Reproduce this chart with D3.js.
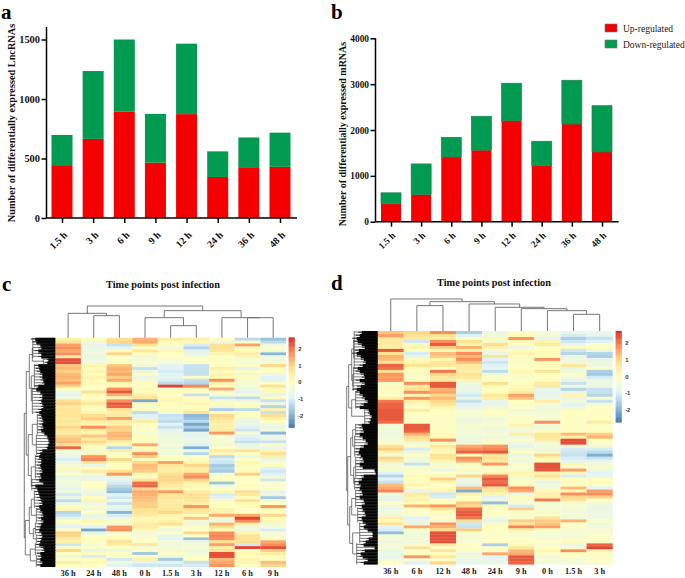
<!DOCTYPE html>
<html>
<head>
<meta charset="utf-8">
<script src="https://cdnjs.cloudflare.com/ajax/libs/d3/7.8.5/d3.min.js"></script>
<style>
  body { margin: 0; background: #fff; }
  text { font-family: "Liberation Serif", serif; }
</style>
</head>
<body>
<div id="chart"></div>
<script>
// bar charts
var hours = ['1.5 h', '3 h', '6 h', '9 h', '12 h', '24 h', '36 h', '48 h'];
var lncUp = [437, 665, 893, 465, 873, 345, 427, 430];
var lncDown = [261, 570, 607, 410, 592, 215, 250, 287];
var mrnaUp = [390, 590, 1410, 1560, 2200, 1220, 2130, 1520];
var mrnaDown = [240, 670, 430, 740, 820, 535, 955, 1010];
var lncTicks = [0, 500, 1000, 1500];
var mrnaTicks = [0, 1000, 2000, 3000, 4000];
var legendLabels = ['Up-regulated', 'Down-regulated'];

// heatmap c, one list per column, top row first
var c36h = [.6,.9,1.8,2,1.7,2,.9,2.6,2.6,1.4,1.5,1.3,1.5,1.6,1.4,1.8,1.2,.2,-.3,-.7,-.2,1.1,1.3,.8,1,.9,
  1,.8,.9,.7,1.2,.9,.7,1.2,1.4,1.5,1.1,2.4,-.1,-.3,-.5,-.8,-.3,-.1,.3,-.2,.2,-.5,-.2,-.2,-.3,-.7,
  -.2,-.9,-.4,-1.1,-.4,.3,.4,-1.2,-1,-.4,.2,-.2,-.7,.3,1.3,1.2,.8,.6,-.9,.1,1.2,.1,-.2,.1,.7,.2];
var c24h = [.3,-.2,-.5,-.4,-.3,-.2,-.4,-.3,-.3,.5,.3,.5,.2,.6,.3,.4,.2,.1,1.1,.3,.2,.5,.9,.3,.2,.5,
  1.1,1.3,.8,.5,2,.7,.5,1.4,.8,1.2,.5,.3,-.2,.4,1.9,2.1,.9,-.4,.3,.8,-.2,-.5,-.3,.2,.2,0,
  -.3,-.4,.3,.5,-.3,0,-.2,.2,-.4,-.4,.4,.1,-.6,-1.9,-.5,.1,.2,.3,-.1,.1,-.5,.3,-.8,.2,.4,.2];
var c48h = [1,1.2,-1,-.6,.3,1.2,.1,.2,.1,1.4,1.6,1.5,1.7,1.3,1.7,.4,.3,2,2.5,1.6,.4,2,2.5,2.4,1,.6,
  .8,1.8,.7,.6,1.3,1.2,1.5,1.6,1.4,.7,.3,-1.2,.7,.1,.2,1.2,.3,.2,.3,1,1.9,-.4,-.5,-.8,-1.1,-1.4,
  -1.6,-.6,-.9,-.3,-1,-.4,-.6,-1.7,-.8,-.3,.1,-.2,1.9,2,-.1,.2,.4,1,.7,.2,-.4,.2,.1,-.9,-.2,-.7];
var c0h = [1.6,1.7,1,.2,.9,.3,-.2,-.2,.1,-.3,-1,-.3,.2,-.4,-.2,.3,.1,.4,.3,.7,1,-1.9,.4,-.2,.3,-1.1,
  -.7,-.6,.7,.1,.1,.1,-.2,.3,.2,.3,1.7,.3,.4,2,1.3,.2,1.2,1.5,1.4,1.3,.4,.1,1,2.3,2.4,1.2,
  1.7,1.6,1.5,1.4,1.3,1.3,1,.9,.8,.3,.5,.7,.8,.4,-.2,-.1,.1,.1,.8,-.1,.1,-1.4,0,.6,-.7,-.9];
var c1h5 = [.8,.3,.1,-.2,.4,.2,.2,-.1,-.1,-.6,-.7,-.8,-.7,-.5,-.8,-1.1,2.7,.1,.3,.2,.4,.5,.3,.1,.3,-.2,
  -1,-.9,-1.1,-.6,-1,-.5,-.4,-.3,-.2,-.3,-.1,-.3,-.1,-.2,.1,.2,1.8,.9,.7,.7,1,1.2,1.2,1,.8,.6,
  1.9,.9,.9,.7,.8,.8,.9,1.2,.5,.3,.6,1.1,.1,-.3,.1,-.5,-.6,-.2,-.3,-.1,-.2,.1,-.3,-1.4,-.6,-.9];
var c3h = [.7,.4,-.8,-1.2,-.6,-.4,-.1,.1,.1,-1,-1,-1,-1,.1,-1,-1.2,2.1,.4,.1,-1,.2,.3,.5,.2,.4,1,
  -1.7,-1.5,-1.1,-1.9,-1.3,-1.9,-.5,-.6,-.4,-.4,-.6,-1.8,-.3,-1.2,.1,.3,.5,1.2,.7,.7,1.7,2,1.2,.6,.4,.3,
  .8,1.1,1,.9,.7,1.9,1.1,.8,.2,1.4,-.2,-.3,.1,.2,1.2,.1,-1.5,-.3,-.2,-.1,-.3,-.2,.1,.2,-1,-.8];
var c12h = [.2,-.3,1,1.1,.9,.5,.2,.1,.2,.3,.6,.3,.5,.4,2,.6,.2,1.7,0,-.1,-1,-.2,.3,-.3,-1.3,.3,
  1.2,1,.7,.6,.6,.7,1.9,-.1,-.1,-.1,-.2,.2,.8,.5,-1.1,-.8,-.9,-1.4,-1.2,-1.4,-.1,.2,.2,-1.5,-.2,.1,
  .4,-.8,-.7,.3,.2,.2,.5,.6,1.7,-.1,-.3,1.6,1.1,.3,2,2.1,2,1,1.8,.7,1,2.6,2.6,1.5,1.7,1.9];
var c6h = [-1.1,.1,1.8,.3,.3,.7,.5,-.1,-.1,.1,-.6,.2,-.2,.3,-.1,-.1,-.1,-.3,-.7,.1,-1.1,-.4,.2,.3,-1.1,.2,
  .2,-.2,-.4,-.4,-.7,-.9,-.1,-.7,-.8,-1,-.5,-.2,1,.2,-.5,.2,.4,.3,.1,.3,1.3,.2,.1,.2,.3,0,
  1.1,.8,.3,1,.4,.3,.1,.2,1.7,2.7,2,.5,-.2,-.3,.5,1,1,1.1,-.9,2.7,.1,.4,.3,.5,.4,.1];
var c9h = [-1.5,-1.1,-.3,.1,-.2,-1.7,-.3,-.2,-.1,1.2,.3,.1,-.3,-.7,-.6,.1,1,.3,.4,-.5,.3,-1,-.3,-1.2,.6,-1,
  1.1,.6,.2,-.2,-.5,-.2,-1.7,-.3,-.5,-1,.1,-.5,.5,1.1,.6,-.4,0,.2,-.7,-.9,-.7,-.2,-.9,.1,-.1,.2,
  -.5,-.3,-1.4,-.2,.2,1.9,.4,.2,1.2,.3,.4,-.2,-.1,-.8,-.1,0,.1,1.7,2,2.6,1.3,.7,.3,.2,1.5,1.2];
var heatC = [c36h, c24h, c48h, c0h, c1h5, c3h, c12h, c6h, c9h];
var labelsC = ['36 h', '24 h', '48 h', '0 h', '1.5 h', '3 h', '12 h', '6 h', '9 h'];
// how far the black row tree reaches left of the heatmap, per row
var reachC = [20,19,15,14,17,14,14,7,8,17,16,15,13,13,12,11,17,19,15,13,13,14,13,12,14,16,
  14,13,12,13,12,14,11,8,7,6,7,8,13,15,16,14,14,15,14,13,15,14,16,12,20,18,
  17,16,15,14,13,16,15,13,12,14,12,14,15,16,14,13,14,15,16,12,11,15,14,15,13,15];
// [height, child, child], leaves are [firstRow, lastRow]
var rowTreeC = [31,
  [29, [26, [23, [0, 6], [7, 8]], [24, [9, 16], [17, 25]]],
    [27, [23, [26, 32], [33, 39]], [24, [40, 47], [48, 51]]]],
  [30, [26, [24, [52, 57], [58, 62]], [22, [63, 66], [67, 69]]], [25, [70, 73], [74, 77]]]];
var colTreeC = [95,
  [73, '36 h', [66, '24 h', '48 h']],
  [81, [60, '0 h', [36, '1.5 h', '3 h']], [60, '12 h', [60, '6 h', '9 h']]]];

// heatmap d
var d36h = [1.4,1.8,.9,.8,.7,.8,2.5,1,1.6,1.5,.9,2.4,2.3,1.1,1.9,1.8,1.9,.1,-.1,.3,0,.2,.6,2.2,2.4,2.4,
  2.5,2.5,2.5,2.5,2.3,-.2,-.2,-.3,-.3,-.2,-.1,-.1,1,1.3,.6,-.2,1.2,.8,-.3,0,-.1,-.7,-1.2,-.6,-1,1.5,
  1.7,2.1,-.2,-.4,-.5,.2,-.3,-.4,-.2,-.3,.6,.4,1,-.7,-.8,-1.6,-.1,-.1,-.3,-.1,-.1,-.5,-.3,-.6,-.2,.2];
var d6h = [1.2,1,.8,-.9,.3,.4,.2,-.8,-.5,.3,.5,1,.3,.2,0,.1,.1,2,.7,1,2,.4,1.9,.6,.4,.1,
  .8,.2,.1,.1,.1,2.5,2.5,2.4,1.6,1.1,.8,-.2,.1,-.8,-.3,.2,-.3,-.2,-1,-.1,0,.1,.4,.2,.3,.5,
  .2,-.6,.8,.5,.6,.3,1.6,.2,.1,0,-.7,-.4,-.3,1.7,.1,-.2,-.2,-.2,-.2,-.1,1,.1,.3,1.9,-.1,-.7];
var d12h = [2,1,.7,2,2.5,1.3,.3,1.5,1.3,.5,.9,.9,.2,2.2,1.2,.8,.9,2.5,2.5,1.6,1.7,1.2,1.5,1.2,.9,.5,
  .2,.2,.1,.1,.1,.1,.1,.2,.3,.4,2,.1,.9,.5,.3,1,.9,.5,-.1,0,-.4,.1,.4,1.3,.5,.1,
  .3,.5,-.9,-.8,.2,.3,1.9,1,.3,-.1,.1,-.2,1.9,1.6,1.1,2.6,2.6,2.6,2.6,.8,.1,1,.2,.9,.1,1.2];
var d48h = [-1.3,-.7,.2,1,.5,1.6,.6,2,1.5,2,1.4,.8,.8,.7,1,.8,.5,-.3,-.4,-.4,-.5,-.9,-.4,-1,-.6,-.5,
  -.1,-.1,-.1,-.3,-.3,0,-.2,-.1,-.2,-.3,-.3,-.2,1.7,2,2.4,.3,2,1.7,.2,.1,0,-.1,1.2,-.3,-.4,-.6,
  1.5,-1.8,.6,.2,.3,1.4,1.2,2.3,2.5,2.5,2.2,1,-.9,-1,1.3,.1,-.1,-.1,-.1,.2,.1,.1,-.4,-.3,-.4,-.5];
var d24h = [-.3,-.2,.3,0,1.1,.6,-.2,-.4,1,-.7,-.9,-.7,-.5,-1.1,-.3,.1,.1,1.1,.3,.2,.3,.9,.6,-.4,-.5,-.3,
  .3,.1,0,-.2,-.1,0,-.3,-.2,-.1,-.2,-.1,.1,1.9,2.1,2.5,1,1,.7,1.9,.1,.1,.5,2.1,2.5,2.3,2.5,
  1,.9,.5,-.6,-.3,-1.6,.4,.2,.1,.2,-.2,-.7,.3,.2,.2,.1,.1,.1,.1,-1.3,.1,.1,1.7,-.7,-.5,-.4];
var d9h = [.1,.3,1.9,.4,.2,-.3,.3,.5,.3,0,.3,.1,.2,.4,.3,0,.1,.2,.3,.5,.7,1.8,1.4,.2,0,.2,
  -.2,-.1,.1,.1,.1,.5,-.2,-.2,.6,-.3,0,-.2,-.6,-.2,.2,-.4,-.1,-.3,0,.1,-.1,.5,.4,-.2,.2,.3,
  2,1.7,-.4,.3,-.1,.1,-.8,1.3,.1,0,0,1.3,1,2.1,.6,0,0,.2,.1,.3,.9,1.5,1.7,2.5,2.5,2.4];
var d0h = [0,-.2,-.6,.5,.8,.2,.3,.3,.2,1.9,.3,.3,.2,1,.2,.2,.3,.7,.8,-.5,-.6,-.5,-.4,.7,-.2,-.2,
  -.2,-.1,-.1,-.1,2,-.2,-.2,.2,.9,.9,.7,-.2,-.1,-.3,-.1,1.2,.5,.3,2.6,2.6,2.5,.5,1.1,.4,-.5,-.2,
  -.2,.4,.6,.6,2.2,-.1,-.1,0,0,0,1,1.3,1.4,1.8,.1,-.1,-.1,-.1,.1,-.1,.2,.4,.1,-.2,-.1,-.2];
var d1h5 = [-.4,-.8,-1.3,-.9,-.5,.3,-.9,-1.2,-.5,-.3,-.2,.9,-.4,-.2,.1,-.3,-.4,-1,-.2,-1.2,-.4,.5,-.4,-.2,-.6,-.3,
  .3,.2,.1,.1,.1,.1,.1,.2,1.5,.6,2.6,2.6,-.2,-.8,-.9,-1,-.8,-.7,.5,0,1.8,.4,-.8,.2,.3,.2,
  1.5,.4,2,1.2,1,0,-.1,-.1,-.2,-.2,-.2,1.6,.1,.1,-.1,-.1,-.1,-.1,.3,-.4,-.1,2,.2,.2,-.2,-.1];
var d3h = [-.3,-.6,-1,-.7,.1,.1,-.3,-1.2,-1.3,-.5,-.3,-.3,.1,-1.3,-1.4,-.8,-.4,-.3,-.4,-1,-1,-1.2,.1,-1,-.2,.1,
  .2,.1,.2,.1,.8,.1,.1,.2,1.3,1.6,.1,.1,-.2,-.8,-1.1,-1.8,-1,-.5,-.2,0,-.2,-.7,-.5,.2,.3,.1,
  -.7,1.8,2,1.3,.2,-.2,-.3,-.4,-.3,-.3,-.3,.1,-.3,-.2,-.1,-.1,.1,.1,.1,2.4,2.7,.6,.1,.1,.1,0];
var heatD = [d36h, d6h, d12h, d48h, d24h, d9h, d0h, d1h5, d3h];
var labelsD = ['36 h', '6 h', '12 h', '48 h', '24 h', '9 h', '0 h', '1.5 h', '3 h'];
var reachD = [16,18,21,20,16,13,19,21,17,14,12,15,20,18,14,13,18,13,17,21,18,15,13,10,14,18,
  9,8,6,7,8,16,15,14,18,15,12,10,14,18,19,17,15,14,18,15,3,2,14,16,19,17,
  18,16,15,18,14,13,16,15,13,12,16,15,12,14,10,5,5,9,12,14,3,13,17,15,10,14];
var rowTreeD = [31,
  [29, [26, [24, [0, 5], [6, 11]], [25, [12, 16], [17, 19]]], [26, [20, 25], [26, 30]]],
  [30, [27, [25, [31, 34], [35, 41]], [24, [42, 48], [49, 52]]],
    [28, [26, [53, 58], [59, 63]], [25, [64, 70], [71, 77]]]]];
var colTreeD = [96, '36 h',
  [88, [76, '6 h', '12 h'],
    [81, '48 h', [71, '24 h', [67, '9 h', [61, '0 h', [50, '1.5 h', '3 h']]]]]]];

var colorStops = ['#4575B4', '#91BFDB', '#E0F3F8', '#FFFFBF', '#FEE090', '#FC8D59', '#D73027'];
var colorTicks = [2, 1, 0, -1, -2];

var width = 685, height = 578;
var svg = d3.select('#chart').append('svg')
  .attr('width', width).attr('height', height)
  .style('display', 'block');

var fillUp = '#f40000', fillDown = '#009a50';

function drawBars(cfg) {
  var x = d3.scalePoint().domain(hours).range([cfg.x0, cfg.x1]);
  var y = d3.scaleLinear().domain([0, cfg.yMax]).range([cfg.y0, cfg.y1]);
  var rows = hours.map(function(h, i) {
    return { hour: h, up: cfg.up[i], down: cfg.down[i] };
  });
  var series = d3.stack().keys(['up', 'down'])(rows);
  var g = svg.append('g');

  g.selectAll('g.series').data(series).enter().append('g')
    .attr('fill', function(d) { return d.key === 'up' ? fillUp : fillDown; })
    .attr('stroke', function(d) { return d.key === 'down' && cfg.outline ? cfg.outline : 'none'; })
    .attr('stroke-width', 0.7)
    .selectAll('rect').data(function(d) { return d; }).enter().append('rect')
    .attr('x', function(d) { return x(d.data.hour) - cfg.barW / 2; })
    .attr('width', cfg.barW)
    .attr('y', function(d) { return y(d[1]); })
    .attr('height', function(d) { return y(d[0]) - y(d[1]); });

  var yAxis = d3.axisLeft(y).tickValues(cfg.ticks).tickSize(5).tickPadding(1.5).tickFormat(d3.format('d'));
  var gy = g.append('g').attr('transform', 'translate(' + cfg.axisX + ',0)').call(yAxis);
  // axis line runs above the top tick, so redraw the domain by hand
  gy.select('.domain').attr('d', 'M0,' + cfg.y0 + 'V' + cfg.axisTop);
  gy.selectAll('text').style('font-weight', 'bold').style('font-size', cfg.tickSize + 'px').attr('fill', '#111');

  var xAxis = d3.axisBottom(x).tickSize(5);
  var gx = g.append('g').attr('transform', 'translate(0,' + cfg.y0 + ')').call(xAxis);
  gx.select('.domain').attr('d', 'M' + cfg.axisX + ',0H' + cfg.axisEnd);
  gx.selectAll('text')
    .style('font-weight', 'bold').style('font-size', cfg.hourSize + 'px').attr('fill', '#111')
    .attr('text-anchor', 'end').attr('x', 0).attr('y', 0).attr('dy', '0.35em')
    .attr('transform', 'translate(' + cfg.hourShift + ') rotate(-45)');

  g.selectAll('.domain').attr('stroke', '#000').attr('stroke-width', 1.5);
  g.selectAll('.tick line').attr('stroke', '#000').attr('stroke-width', 1.5);

  g.append('text')
    .attr('transform', 'translate(' + cfg.titleX + ',' + cfg.titleY + ') rotate(-90)')
    .attr('text-anchor', 'middle')
    .style('font-weight', 'bold').style('font-size', cfg.titleSize + 'px').attr('fill', '#111')
    .text(cfg.title);
}

drawBars({
  up: lncUp, down: lncDown, ticks: lncTicks, yMax: 1500,
  x0: 62, x1: 280, y0: 218, y1: 39.5, barW: 21,
  axisX: 46.5, axisTop: 27, axisEnd: 297,
  tickSize: 10.4, hourSize: 10, hourShift: '3,15',
  title: 'Number of differentially expressed LncRNAs', titleX: 14.5, titleY: 123, titleSize: 10.3
});

drawBars({
  up: mrnaUp, down: mrnaDown, ticks: mrnaTicks, yMax: 4000, outline: '#2c7a55',
  x0: 391, x1: 602, y0: 221.7, y1: 38.3, barW: 20,
  axisX: 375.5, axisTop: 38.3, axisEnd: 618.7,
  tickSize: 9.4, hourSize: 9.4, hourShift: '2,12',
  title: 'Number of differentially expressed mRNAs', titleX: 346, titleY: 134, titleSize: 10
});

// legend
var legend = svg.append('g').selectAll('g').data(legendLabels).enter().append('g')
  .attr('transform', function(d, i) { return 'translate(605,' + (24 + i * 16) + ')'; });
legend.append('rect')
  .attr('width', 12).attr('height', 8)
  .attr('fill', function(d, i) { return i === 0 ? fillUp : fillDown; })
  .attr('stroke', '#777').attr('stroke-width', 0.6);
legend.append('text')
  .attr('x', 18).attr('y', 7.5)
  .style('font-size', '9.5px').attr('fill', '#222')
  .text(function(d) { return d; });

var color = d3.scaleLinear()
  .domain(d3.range(colorStops.length).map(function(i) { return -2.7 + i * 0.9; }))
  .range(colorStops);

function drawHeatmap(cfg) {
  var g = svg.append('g');
  var x = d3.scaleBand().domain(cfg.labels).range([cfg.left, cfg.right]);

  // cells, the picture sits a little on the cool side of the key
  g.selectAll('g.col').data(cfg.cols).enter().append('g')
    .attr('transform', function(d, i) { return 'translate(' + x(cfg.labels[i]) + ',0)'; })
    .each(function(col) {
      var rowY = d3.scaleBand().domain(d3.range(col.length)).range([cfg.top, cfg.bottom]);
      d3.select(this).selectAll('rect').data(col).enter().append('rect')
        .attr('y', function(d, i) { return rowY(i); })
        .attr('width', x.bandwidth())
        .attr('height', rowY.bandwidth() + 0.3)
        .attr('fill', function(d) { return color(d - 0.2); });
    });

  g.selectAll('text.collabel').data(cfg.labels).enter().append('text')
    .attr('x', function(d) { return x(d) + x.bandwidth() / 2; })
    .attr('y', cfg.labelY)
    .attr('text-anchor', 'middle')
    .style('font-size', '8.4px').style('font-weight', 'bold').attr('fill', '#222')
    .text(function(d) { return d; });

  g.append('text')
    .attr('x', cfg.titleX).attr('y', cfg.titleY)
    .attr('text-anchor', 'middle')
    .style('font-size', '10.3px').style('font-weight', 'bold').attr('fill', '#111')
    .text('Time points post infection');

  // column tree on top
  var colH = d3.scaleLinear().domain([0, 95]).range([cfg.top, cfg.top - 31.7]);
  var colRoot = d3.hierarchy(cfg.colTree, function(d) {
    return Array.isArray(d) ? d.slice(1) : null;
  });
  colRoot.eachAfter(function(n) {
    if (n.children) {
      n.px = d3.mean(n.children, function(c) { return c.px; });
      n.h = n.data[0];
    } else {
      n.px = x(n.data) + x.bandwidth() / 2;
      n.h = 0;
    }
  });
  g.append('g').selectAll('path').data(colRoot.descendants().filter(function(n) { return n.children; }))
    .enter().append('path')
    .attr('fill', 'none').attr('stroke', '#666').attr('stroke-width', 0.9)
    .attr('d', function(n) {
      var a = n.children[0], b = n.children[1];
      return 'M' + a.px + ',' + colH(a.h) + 'V' + colH(n.h) + 'H' + b.px + 'V' + colH(b.h);
    });

  // row tree on the left: a black stub per row with a thin comb in front of it
  var rowY = d3.scaleBand().domain(d3.range(cfg.reach.length)).range([cfg.top, cfg.bottom]);
  var rowX = d3.scaleLinear().domain([0, 33]).range([cfg.left, cfg.left - 33]);
  g.append('g').selectAll('rect').data(cfg.reach).enter().append('rect')
    .attr('x', function(d) { return rowX(d); })
    .attr('y', function(d, i) { return rowY(i); })
    .attr('width', function(d) { return rowX(0) - rowX(d); })
    .attr('height', rowY.bandwidth() + 0.3)
    .attr('fill', '#000');
  g.append('g').selectAll('rect').data(cfg.reach).enter().append('rect')
    .attr('x', function(d) { return rowX(d * 1.22); })
    .attr('y', function(d, i) { return rowY(i) + 0.8; })
    .attr('width', function(d) { return rowX(0) - rowX(d * 1.22); })
    .attr('height', 0.9)
    .attr('fill', '#111');

  var rowRoot = d3.hierarchy(cfg.rowTree, function(d) {
    return typeof d[1] === 'number' ? null : d.slice(1);
  });
  rowRoot.eachAfter(function(n) {
    if (n.children) {
      n.py = d3.mean(n.children, function(c) { return c.py; });
      n.h = n.data[0];
    } else {
      n.py = (rowY(n.data[0]) + rowY(n.data[1]) + rowY.bandwidth()) / 2;
      n.h = Math.min(d3.max(cfg.reach.slice(n.data[0], n.data[1] + 1)) + 4, n.parent.data[0] - 0.5);
    }
  });
  var treeG = g.append('g').attr('fill', 'none').attr('stroke', '#444').attr('stroke-width', 0.7);
  treeG.selectAll('path.node').data(rowRoot.descendants().filter(function(n) { return n.children; }))
    .enter().append('path')
    .attr('d', function(n) {
      var a = n.children[0], b = n.children[1];
      return 'M' + rowX(a.h) + ',' + a.py + 'H' + rowX(n.h) + 'V' + b.py + 'H' + rowX(b.h);
    });
  // small brackets joining neighbouring rows inside each leaf group
  treeG.selectAll('path.leaf').data(rowRoot.leaves())
    .enter().append('path')
    .attr('d', function(n) {
      var p = 'M' + rowX(n.h) + ',' + rowY(n.data[0]) + 'V' + (rowY(n.data[1]) + rowY.bandwidth());
      d3.range(n.data[0], n.data[1] + 1).forEach(function(r) {
        p += 'M' + rowX(n.h) + ',' + (rowY(r) + 1) + 'H' + rowX(cfg.reach[r]);
      });
      return p;
    });

  // colour key
  var keyY = d3.scaleLinear().domain([2, -2]).range([cfg.keyTick2, cfg.keyTickM2]);
  var keyVals = d3.range(2.7, -2.7, -0.05);
  var keyG = g.append('g');
  keyG.selectAll('rect').data(keyVals).enter().append('rect')
    .attr('x', cfg.keyX)
    .attr('width', 6)
    .attr('y', function(d) { return keyY(d); })
    .attr('height', Math.abs(keyY(0.05) - keyY(0)) + 0.5)
    .attr('fill', function(d) { return color(d); });
  keyG.selectAll('text').data(colorTicks).enter().append('text')
    .attr('x', cfg.keyX + 9.5)
    .attr('y', function(d) { return keyY(d) + 2; })
    .style('font-family', '"Liberation Sans", sans-serif')
    .style('font-size', '5.8px').style('font-weight', 'bold').attr('fill', '#333')
    .text(function(d) { return d; });
}

drawHeatmap({
  cols: heatC, labels: labelsC, reach: reachC, rowTree: rowTreeC, colTree: colTreeC,
  left: 55.3, right: 286, top: 337.7, bottom: 566.7,
  labelY: 575.5, titleX: 163, titleY: 287.5,
  keyX: 288.7, keyTick2: 349, keyTickM2: 415.7
});

drawHeatmap({
  cols: heatD, labels: labelsD, reach: reachD, rowTree: rowTreeD, colTree: colTreeD,
  left: 377.7, right: 612.7, top: 331, bottom: 564.3,
  labelY: 573.5, titleX: 494, titleY: 286,
  keyX: 615.7, keyTick2: 342.7, keyTickM2: 410.3
});

// panel letters
var panels = [['a', 1, 18.7], ['b', 331, 18.7], ['c', 2, 290.5], ['d', 331, 290]];
svg.append('g').selectAll('text').data(panels).enter().append('text')
  .attr('x', function(d) { return d[1]; })
  .attr('y', function(d) { return d[2]; })
  .style('font-size', '21px').style('font-weight', 'bold').attr('fill', '#000')
  .text(function(d) { return d[0]; });
</script>
</body>
</html>
